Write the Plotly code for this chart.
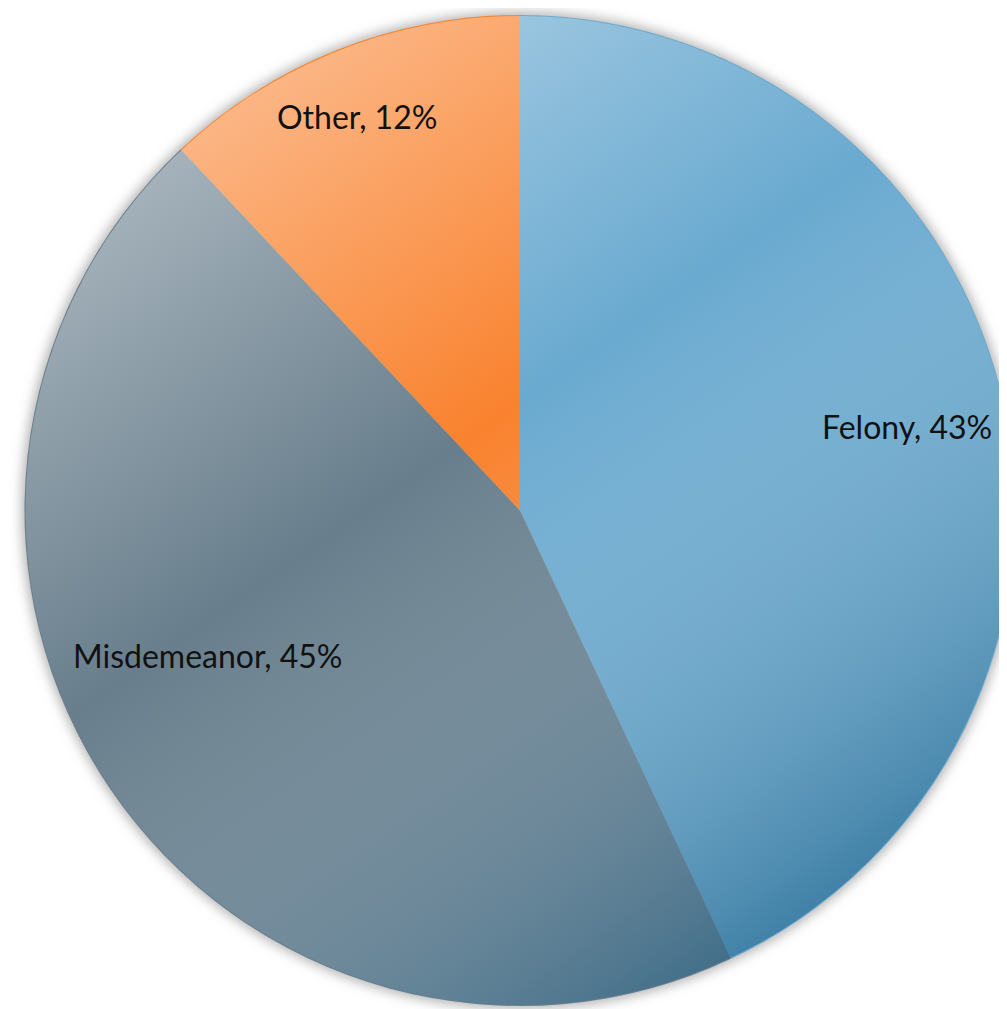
import plotly.graph_objects as go

categories = ["Felony", "Misdemeanor", "Other"]
values = [43, 45, 12]
colors = ["#6aaad0", "#687e8c", "#f9822e"]

# label centres in page pixels, as seen in the reference
label_px = [(907, 427), (208, 655), (357, 117)]

OFF = 8  # default body margin of the html page
W, H = 1016 - OFF, 1009 - OFF
ml, mr, mt, mb = 24 - OFF, 0, 15 - OFF, 3

fig = go.Figure()
fig.add_trace(go.Pie(
    labels=categories,
    values=values,
    sort=False,
    direction="clockwise",
    rotation=0,
    marker=dict(colors=colors, line=dict(width=0)),
    textinfo="none",
    hoverinfo="label+percent",
    showlegend=False,
))

# gradient shading overlay for the pie disc
svg = ("data:image/svg+xml;utf8,"
       "<svg xmlns='http://www.w3.org/2000/svg' width='100' height='100' viewBox='0 0 100 100'>"
       "<defs><linearGradient id='g' x1='0.1' y1='0' x2='0.8' y2='1'>"
       "<stop offset='0' stop-color='white' stop-opacity='0.55'/>"
       "<stop offset='0.45' stop-color='white' stop-opacity='0'/>"
       "<stop offset='1' stop-color='%23004a75' stop-opacity='0.62'/>"
       "</linearGradient></defs>"
       "<circle cx='50' cy='50' r='49.9' fill='url(%23g)'/></svg>")

shadow = ("data:image/svg+xml;utf8,"
          "<svg xmlns='http://www.w3.org/2000/svg' width='110' height='110' viewBox='-5 -5 110 110'>"
          "<defs><filter id='b' x='-0.2' y='-0.2' width='1.4' height='1.4'>"
          "<feGaussianBlur stdDeviation='0.6'/></filter></defs>"
          "<circle cx='50' cy='50' r='50.3' fill='%23808080' fill-opacity='0.6' filter='url(%23b)'/></svg>")

pw, ph = W - ml - mr, H - mt - mb
d = min(pw, ph)
cx = ml + pw / 2
cy = mt + ph / 2
fig.add_layout_image(dict(
    source=svg, xref="paper", yref="paper",
    x=(cx - d / 2 - ml) / pw, y=1 - (cy - d / 2 - mt) / ph,
    sizex=d / pw, sizey=d / ph, xanchor="left", yanchor="top",
    sizing="stretch", layer="above",
))
ds = d * 1.1
fig.add_layout_image(dict(
    source=shadow, xref="paper", yref="paper",
    x=(cx - ds / 2 - ml) / pw, y=1 - (cy - ds / 2 - mt) / ph,
    sizex=ds / pw, sizey=ds / ph, xanchor="left", yanchor="top",
    sizing="stretch", layer="below",
))

for (px, py), c, v in zip(label_px, categories, values):
    fx, fy = px - OFF, py - OFF
    fig.add_annotation(x=(fx - ml) / pw, y=1 - (fy - mt) / ph, xref="paper", yref="paper",
                       text=f"{c}, {v}%", showarrow=False,
                       xanchor="center", yanchor="middle",
                       font=dict(family="Lato, Liberation Sans, sans-serif", size=32, color="#111111"))

fig.update_layout(
    width=W, height=H,
    margin=dict(l=ml, r=mr, t=mt, b=mb),
    paper_bgcolor="rgba(0,0,0,0)", plot_bgcolor="rgba(0,0,0,0)",
)

fig.write_html("out.html")
